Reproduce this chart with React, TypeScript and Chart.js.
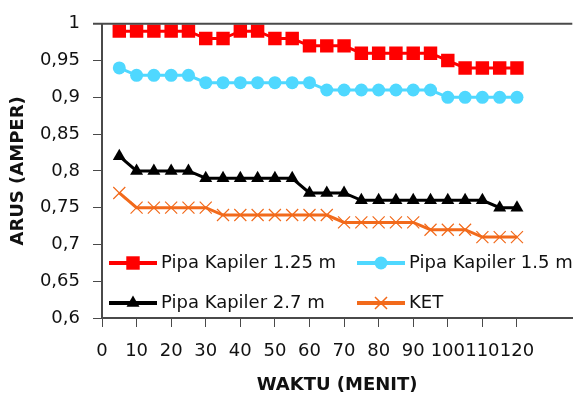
import React, { useEffect, useRef } from "react";
import { Chart, registerables } from "chart.js";
import { drawPoint } from "chart.js/helpers";

Chart.register(...registerables);

const minutes = [5, 10, 15, 20, 25, 30, 35, 40, 45, 50, 55, 60, 65, 70, 75, 80, 85, 90, 95, 100, 105, 110, 115, 120];
const pipa125 = [0.99, 0.99, 0.99, 0.99, 0.99, 0.98, 0.98, 0.99, 0.99, 0.98, 0.98, 0.97, 0.97, 0.97, 0.96, 0.96, 0.96, 0.96, 0.96, 0.95, 0.94, 0.94, 0.94, 0.94];
const pipa15 = [0.94, 0.93, 0.93, 0.93, 0.93, 0.92, 0.92, 0.92, 0.92, 0.92, 0.92, 0.92, 0.91, 0.91, 0.91, 0.91, 0.91, 0.91, 0.91, 0.90, 0.90, 0.90, 0.90, 0.90];
const pipa27 = [0.82, 0.80, 0.80, 0.80, 0.80, 0.79, 0.79, 0.79, 0.79, 0.79, 0.79, 0.77, 0.77, 0.77, 0.76, 0.76, 0.76, 0.76, 0.76, 0.76, 0.76, 0.76, 0.75, 0.75];
const ket = [0.77, 0.75, 0.75, 0.75, 0.75, 0.75, 0.74, 0.74, 0.74, 0.74, 0.74, 0.74, 0.74, 0.73, 0.73, 0.73, 0.73, 0.73, 0.72, 0.72, 0.72, 0.71, 0.71, 0.71];
const xTicks = [0, 10, 20, 30, 40, 50, 60, 70, 80, 90, 100, 110, 120];
const seriesLabels = ["Pipa Kapiler 1.25 m", "Pipa Kapiler 1.5 m", "Pipa Kapiler 2.7 m", "KET"];

const FONT = "'DejaVu Sans', sans-serif";
const AXIS = "#4a4a4a";

const toPts = (ys: number[]) => ys.map((y, i) => ({ x: minutes[i], y }));

const legendPlugin = {
  id: "excelLegend",
  afterDraw(chart: any) {
    const { ctx, chartArea } = chart;
    ctx.save();
    // top border of plot area
    ctx.strokeStyle = AXIS;
    ctx.lineWidth = 2;
    ctx.beginPath();
    ctx.moveTo(chartArea.left - 9, chartArea.top);
    ctx.lineTo(chartArea.right, chartArea.top);
    ctx.stroke();

    const rows = [chartArea.bottom - 55, chartArea.bottom - 15];
    const cols = [chartArea.left + 7, chartArea.left + 255];
    chart.data.datasets.forEach((ds: any, i: number) => {
      const x = cols[i % 2];
      const y = rows[Math.floor(i / 2)];
      ctx.strokeStyle = ds.borderColor;
      ctx.lineWidth = 4;
      ctx.beginPath();
      ctx.moveTo(x, y);
      ctx.lineTo(x + 48, y);
      ctx.stroke();
      ctx.fillStyle = ds.pointBackgroundColor;
      ctx.strokeStyle = ds.pointBorderColor;
      ctx.lineWidth = ds.pointStyle === "crossRot" ? 1.5 : 1;
      drawPoint(ctx, {
        pointStyle: ds.pointStyle,
        radius: ds.pointRadius,
        borderWidth: ds.pointStyle === "crossRot" ? 1.5 : 0,
        rotation: 0,
      } as any, x + 24, y);
      ctx.fillStyle = "#111";
      ctx.font = `18px ${FONT}`;
      ctx.textBaseline = "middle";
      ctx.textAlign = "left";
      ctx.fillText(ds.label, x + 52, y);
    });
    ctx.restore();
  },
};

export default function App() {
  const ref = useRef<HTMLCanvasElement>(null);
  useEffect(() => {
    if (!ref.current) return;
    const mk = (label: string, data: number[], color: string, style: string, r: number, bw: number, fill: string) => ({
      label,
      data: toPts(data),
      borderColor: color,
      backgroundColor: fill,
      borderWidth: 3,
      pointStyle: style,
      pointRadius: r,
      pointBorderWidth: bw,
      pointBackgroundColor: fill,
      pointBorderColor: color,
      tension: 0,
    });
    const chart = new Chart(ref.current, {
      type: "line",
      data: {
        datasets: [
          mk(seriesLabels[0], pipa125, "#ff0000", "rect", 9.5, 0, "#ff0000"),
          mk(seriesLabels[1], pipa15, "#4fd8ff", "circle", 6.5, 0, "#4fd8ff"),
          mk(seriesLabels[2], pipa27, "#000000", "triangle", 7.5, 0, "#000000"),
          mk(seriesLabels[3], ket, "#f26a1b", "crossRot", 8.5, 1.2, "#f26a1b"),
        ] as any,
      },
      options: {
        responsive: false,
        animation: false,
        layout: { padding: { left: 0, right: 0, top: 15, bottom: 0 } },
        plugins: { legend: { display: false }, tooltip: { enabled: false } },
        scales: {
          x: {
            type: "linear",
            min: 0,
            max: 136,
            afterBuildTicks: (s: any) => {
              s.ticks = xTicks.map((v) => ({ value: v }));
            },
            afterFit: (s: any) => {
              s.height = 83;
            },
            grid: { display: true, drawOnChartArea: false, drawTicks: true, tickLength: 9, color: AXIS, lineWidth: 1 },
            border: { display: true, color: AXIS, width: 2 },
            ticks: {
              autoSkip: false,
              maxRotation: 0,
              padding: 14,
              color: "#111",
              font: { family: FONT, size: 18 },
              callback: (v: any) => String(v),
            },
            title: {
              display: true,
              text: "WAKTU (MENIT)",
              color: "#111",
              font: { family: FONT, size: 18, weight: "bold" },
              padding: { top: 0, bottom: 5 },
            },
          },
          y: {
            min: 0.6,
            max: 1,
            afterFit: (s: any) => {
              s.width = 102;
            },
            grid: { display: true, drawOnChartArea: false, drawTicks: true, tickLength: 9, color: AXIS, lineWidth: 1 },
            border: { display: true, color: AXIS, width: 2 },
            ticks: {
              stepSize: 0.05,
              padding: 13,
              color: "#111",
              font: { family: FONT, size: 18 },
              callback: (v: any) => String(Math.round(Number(v) * 100) / 100).replace(".", ","),
            },
            title: {
              display: true,
              text: "ARUS (AMPER)",
              color: "#111",
              font: { family: FONT, size: 18, weight: "bold" },
              padding: { top: 8, bottom: 0 },
            },
          },
        },
      } as any,
      plugins: [legendPlugin],
    });
    return () => chart.destroy();
  }, []);
  return (
    <div style={{ position: "fixed", left: 0, top: 0, width: 582, height: 401, background: "#fff" }}>
      <canvas ref={ref} width={582} height={401} style={{ width: 582, height: 401, display: "block" }} />
    </div>
  );
}
